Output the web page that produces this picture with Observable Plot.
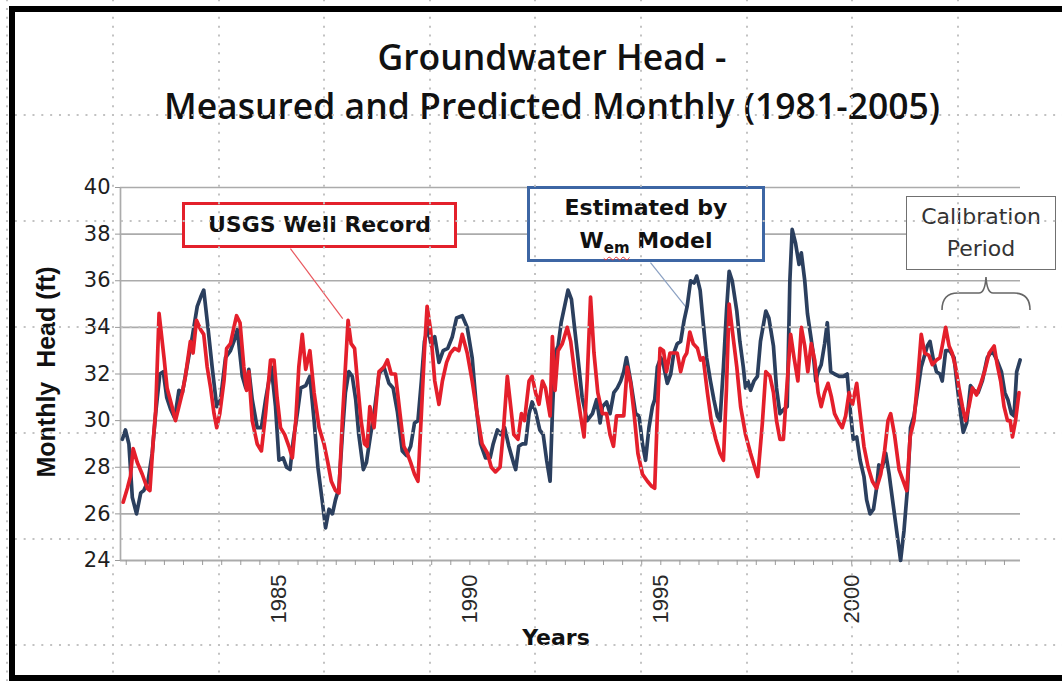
<!DOCTYPE html>
<html><head><meta charset="utf-8">
<script src="https://cdn.jsdelivr.net/npm/d3@7"></script>
<script src="https://cdn.jsdelivr.net/npm/@observablehq/plot@0.6"></script>
<style>
html,body{margin:0;padding:0;background:#fff;}
#page{position:relative;width:1062px;height:681px;overflow:hidden;background:#fff;}
#chart{position:absolute;left:0;top:0;}
.abs{position:absolute;}
#title{left:152px;top:32px;width:800px;text-align:center;font-family:"Open Sans";font-weight:600;font-size:35.5px;line-height:49px;color:#111;}
#ylabel{left:-104px;top:357px;width:300px;text-align:center;transform:rotate(-90deg);font-family:"Liberation Sans";font-weight:bold;font-size:25px;white-space:pre;color:#111;line-height:30px;}
#xlabel{left:456px;top:625px;width:200px;text-align:center;font-family:"DejaVu Sans";font-weight:bold;font-size:22px;color:#111;}
.box{position:absolute;box-sizing:border-box;background:#fff;text-align:center;color:#111;}
#usgs{left:182px;top:202px;width:275px;height:46px;border:3.5px solid #e3202b;font-family:"DejaVu Sans";font-weight:bold;font-size:22px;line-height:39px;}
#wem{left:527px;top:186px;width:238px;height:76px;border:3.5px solid #3d66a4;font-family:"DejaVu Sans";font-weight:bold;font-size:22px;line-height:33px;padding-top:2px;}
#wem sub{font-size:15px;vertical-align:-5px;text-decoration:underline wavy #e33;text-decoration-thickness:1px;text-underline-offset:3px;}
#calib{left:906px;top:196px;width:150px;height:74px;border:1.5px solid #707070;font-family:"DejaVu Sans";font-size:22px;line-height:32px;padding-top:4px;color:#333;}
#grid{position:absolute;left:0;top:0;width:1062px;height:681px;pointer-events:none;
background-image:url("data:image/svg+xml,%3Csvg xmlns='http://www.w3.org/2000/svg' width='106' height='106'%3E%3Cline x1='1' y1='0' x2='1' y2='106' stroke='%23c2c2c2' stroke-width='2' stroke-dasharray='2 6.83'/%3E%3Cline x1='0' y1='1' x2='106' y2='1' stroke='%23c2c2c2' stroke-width='2' stroke-dasharray='2 6.83'/%3E%3C/svg%3E");
background-size:105.6px 106px;background-position:6.4px 7.7px;}
.bar{position:absolute;background:#000;}
</style></head>
<body><div id="page">
<div id="chart"></div>
<div id="title" class="abs">Groundwater Head -<br>Measured and Predicted Monthly (1981-2005)</div>
<div id="ylabel" class="abs">Monthly  Head (ft)</div>
<div id="xlabel" class="abs">Years</div>
<div id="usgs" class="box">USGS Well Record</div>
<div id="wem" class="box">Estimated by<br>W<sub>em</sub> Model</div>
<div id="calib" class="box">Calibration<br>Period</div>
<svg class="abs" style="left:0;top:0" width="1062" height="681">
<path d="M942,310 Q942,293 958,293 L979,293 Q985,293 986,277 Q987,293 993,293 L1014,293 Q1030,293 1030,310" fill="none" stroke="#666" stroke-width="1.6"/>
</svg>
<div id="grid"></div>
<div class="bar" style="left:9px;top:6px;width:6px;height:675px"></div>
<div class="bar" style="left:9px;top:6px;width:1053px;height:6px"></div>
<div class="bar" style="left:9px;top:675px;width:1053px;height:6px"></div>
</div>
<script>
// Measured: USGS well record (decimal year, head in ft)
const usgsYear = [1980.92,1981.03,1981.11,1981.18,1981.29,1981.42,1981.55,1981.62,1981.71,1981.77,1981.86,1981.99,1982.07,1982.20,1982.29,1982.38,1982.47,1982.55,1982.68,1982.75,1982.84,1982.95,1983.03,1983.12,1983.21,1983.30,1983.37,1983.45,1983.56,1983.63,1983.73,1983.82,1983.89,1983.98,
1984.08,1984.15,1984.21,1984.30,1984.43,1984.54,1984.65,1984.78,1984.87,1984.95,1985.04,1985.15,1985.26,1985.35,1985.44,1985.52,1985.61,1985.70,1985.81,1985.92,1986.05,1986.18,1986.28,1986.37,1986.48,1986.57,1986.66,1986.74,1986.81,1986.89,1986.98,1987.07,1987.15,1987.24,1987.31,1987.38,
1987.49,1987.62,1987.75,1987.84,1987.94,1988.05,1988.17,1988.27,1988.36,1988.45,1988.55,1988.64,1988.73,1988.81,1988.88,1988.97,1989.08,1989.19,1989.28,1989.39,1989.49,1989.60,1989.71,1989.80,1989.93,1990.06,1990.19,1990.32,1990.46,1990.56,1990.67,1990.79,
1990.87,1990.98,1991.07,1991.15,1991.26,1991.35,1991.43,1991.55,1991.63,1991.72,1991.81,1991.90,1991.98,1992.10,1992.16,1992.23,1992.31,1992.42,1992.55,1992.64,1992.77,1992.90,1992.99,1993.07,1993.16,1993.25,1993.35,1993.47,1993.58,1993.67,1993.76,1993.84,1993.95,1994.03,1994.12,1994.21,
1994.30,1994.40,1994.52,1994.65,1994.75,1994.84,1994.91,1994.98,1995.07,1995.15,1995.24,1995.34,1995.43,1995.52,1995.61,1995.68,1995.76,1995.85,1995.96,1996.04,1996.11,1996.22,1996.32,1996.44,1996.55,1996.64,1996.72,1996.79,1996.87,1996.99,1997.09,1997.22,1997.35,1997.46,1997.54,1997.66,
1997.75,1997.86,1997.95,1998.03,1998.12,1998.21,1998.30,1998.40,1998.49,1998.59,1998.68,1998.77,1998.85,1998.94,1999.03,1999.12,1999.20,1999.29,1999.38,1999.47,1999.55,1999.67,1999.75,1999.84,1999.93,2000.02,2000.13,2000.22,2000.32,2000.43,2000.54,2000.65,2000.76,2000.86,2000.95,
2001.02,2001.12,2001.24,2001.35,2001.44,2001.53,2001.63,2001.74,2001.82,2001.91,2002.02,2002.11,2002.22,2002.31,2002.37,2002.46,2002.55,2002.63,2002.72,2002.81,2002.90,2002.98,2003.07,2003.16,2003.27,2003.38,2003.48,2003.60,2003.73,2003.81,2003.90,2003.99,2004.08,2004.15,2004.21,2004.29,2004.38];
const usgsHead = [26.5,27.1,27.6,28.8,28.2,27.7,27.1,27.0,29.2,30.4,34.6,32.7,31.4,30.6,30.0,30.6,31.2,31.9,33.4,32.9,34.3,33.9,33.7,32.3,31.4,30.3,29.7,30.3,31.7,33.1,33.3,34.0,34.5,34.2,
32.3,31.3,32.1,30.0,29.0,28.7,30.3,32.6,32.6,31.0,29.7,29.4,28.9,28.4,30.0,32.3,33.7,32.2,33.0,31.2,29.7,29.0,28.2,27.4,27.0,26.9,30.0,32.3,34.3,33.3,33.1,31.4,30.0,29.0,28.9,30.6,
29.7,32.1,32.3,32.6,32.0,32.0,30.3,28.9,28.6,28.2,27.7,27.4,30.3,33.0,34.9,33.9,31.7,30.7,31.7,32.5,32.9,33.1,33.0,33.7,32.9,31.7,30.3,29.0,28.6,28.0,27.8,28.0,
29.4,31.9,30.6,29.4,29.2,30.3,30.0,31.7,31.9,31.2,30.7,31.7,31.4,30.2,33.6,31.3,33.0,33.3,34.0,33.4,31.7,30.2,29.3,31.7,35.3,32.9,31.2,30.3,30.3,29.4,28.9,30.2,30.2,30.2,32.3,31.6,
30.3,28.6,27.7,27.4,27.2,27.1,30.3,33.1,33.0,32.1,32.9,32.9,32.9,32.1,32.7,32.9,33.8,33.3,33.1,32.6,32.7,31.2,30.0,29.2,28.6,28.3,31.4,35.0,33.9,32.3,30.6,29.4,28.6,28.0,27.6,29.9,
32.1,31.9,31.2,30.0,29.2,29.2,31.4,33.7,32.7,31.7,34.0,33.2,32.1,33.3,32.6,31.2,30.6,31.2,31.6,31.0,30.3,29.9,29.7,30.2,31.2,30.7,31.6,30.3,28.9,28.0,27.4,27.1,27.7,28.7,30.0,
30.3,29.4,27.9,27.4,27.0,29.3,30.0,32.0,33.7,32.9,32.8,32.4,32.6,32.7,33.2,34.0,33.2,32.9,32.3,31.4,30.6,30.0,30.6,31.4,31.1,31.6,32.1,32.9,33.2,32.4,31.7,30.6,30.0,30.0,29.3,30.0,31.2];

// Predicted: W_em model (decimal year, head in ft)
const wemYear = [1980.90,1980.98,1981.07,1981.16,1981.27,1981.38,1981.46,1981.57,1981.68,1981.77,1981.88,1981.97,1982.06,1982.16,1982.27,1982.38,1982.47,1982.58,1982.73,1982.86,1982.95,1983.03,1983.14,1983.25,1983.37,1983.47,1983.60,1983.73,1983.82,1983.91,
1984.04,1984.13,1984.21,1984.30,1984.43,1984.54,1984.65,1984.80,1984.91,1985.00,1985.11,1985.20,1985.29,1985.37,1985.48,1985.57,1985.70,1985.81,1985.92,1986.02,1986.13,1986.22,1986.31,1986.40,1986.48,1986.57,1986.66,1986.74,1986.83,1986.92,1987.01,1987.09,1987.21,1987.29,1987.40,
1987.49,1987.62,1987.75,1987.88,1987.99,1988.10,1988.23,1988.34,1988.45,1988.55,1988.64,1988.73,1988.81,1988.90,1988.99,1989.08,1989.19,1989.30,1989.42,1989.54,1989.65,1989.80,1989.93,1990.06,1990.18,1990.28,1990.41,1990.53,1990.61,1990.72,
1990.81,1990.91,1991.02,1991.14,1991.20,1991.28,1991.37,1991.46,1991.55,1991.63,1991.72,1991.83,1991.92,1992.01,1992.10,1992.16,1992.23,1992.31,1992.39,1992.48,1992.57,1992.66,1992.74,1992.83,1992.94,1993.07,1993.21,1993.32,1993.41,1993.47,1993.58,1993.67,1993.77,1993.86,1993.95,1994.03,1994.10,1994.21,
1994.34,1994.43,1994.52,1994.60,1994.69,1994.78,1994.84,1994.91,1995.00,1995.08,1995.17,1995.26,1995.34,1995.43,1995.52,1995.61,1995.69,1995.78,1995.87,1995.94,1996.03,1996.11,1996.20,1996.30,1996.39,1996.48,1996.55,1996.64,1996.72,1996.79,1996.87,1996.99,1997.07,1997.16,1997.22,1997.28,1997.35,1997.44,1997.53,1997.61,
1997.75,1997.83,1997.95,1998.03,1998.12,1998.23,1998.31,1998.38,1998.44,1998.53,1998.62,1998.68,1998.77,1998.84,1998.92,1998.99,1999.06,1999.12,1999.20,1999.29,1999.36,1999.45,1999.55,1999.67,1999.78,1999.88,1999.97,2000.04,2000.13,2000.22,2000.32,2000.39,2000.48,2000.57,2000.65,2000.71,2000.80,2000.89,2000.98,
2001.02,2001.15,2001.28,2001.37,2001.46,2001.54,2001.63,2001.72,2001.82,2001.89,2001.98,2002.05,2002.14,2002.22,2002.31,2002.37,2002.46,2002.57,2002.68,2002.77,2002.85,2002.92,2003.01,2003.11,2003.20,2003.31,2003.42,2003.55,2003.68,2003.80,2003.92,2004.01,2004.09,2004.18,2004.25,2004.32,2004.41];
const wemHead = [29.2,29.6,29.0,26.7,26.0,26.9,27.0,27.4,28.6,30.3,32.0,32.1,31.0,30.5,30.1,31.3,31.2,32.2,33.6,34.9,35.3,35.6,34.0,32.3,30.6,30.9,32.7,33.0,33.4,33.9,
31.9,31.4,32.2,30.9,29.7,29.7,30.9,32.3,30.6,28.3,28.4,28.0,27.9,29.1,30.3,31.4,31.5,31.9,30.0,28.0,26.6,25.4,26.2,26.0,26.6,27.1,29.4,31.2,32.1,31.9,30.9,29.4,27.9,28.2,29.4,
30.3,32.0,32.3,31.6,31.4,30.4,28.7,28.5,28.9,29.9,30.0,31.7,33.4,34.0,33.2,33.6,32.5,33.0,33.1,33.6,34.4,34.5,34.0,32.7,30.4,29.0,28.4,28.4,29.0,29.6,
29.4,29.7,28.9,28.2,27.9,28.9,29.0,29.0,30.3,30.8,30.4,29.6,29.4,28.3,27.4,30.3,32.9,33.2,34.2,34.9,35.6,35.2,34.0,32.7,31.0,30.0,30.3,30.9,29.9,30.6,30.8,30.3,31.2,31.4,31.7,32.1,32.7,31.7,
30.3,30.2,29.0,28.3,29.7,30.6,30.9,32.3,32.7,32.3,31.6,32.0,32.9,33.3,33.4,34.3,34.9,36.0,35.9,36.2,35.6,34.2,32.7,31.7,30.9,30.2,30.0,32.3,34.7,36.4,36.0,34.7,33.4,32.3,31.4,31.7,31.3,31.7,31.9,33.4,
34.7,34.4,33.2,31.4,30.3,30.5,30.6,36.0,38.2,37.6,36.7,37.2,36.0,34.6,33.7,32.9,31.7,32.1,32.4,33.3,34.2,32.1,32.0,31.9,31.9,32.0,30.3,29.2,29.3,28.3,27.6,26.6,26.0,26.2,27.1,28.1,28.0,28.6,27.7,
27.2,25.6,24.0,25.3,27.1,29.7,30.2,31.2,32.3,32.7,33.2,33.4,32.6,32.1,32.0,31.7,33.0,33.0,32.7,31.4,30.3,29.5,29.9,31.5,31.3,31.2,31.7,32.7,33.0,32.6,32.1,31.2,30.9,30.3,30.2,32.1,32.6];

// Axes
const xDomain = [1980.85, 2004.42];
const yTicks = [24, 26, 28, 30, 32, 34, 36, 38, 40];
const yearTicks = [1985, 1990, 1995, 2000];
const minorTicks = d3.range(1981, 2004.3, 0.5);

// Annotation leader lines (from label box to the series feature)
const leaderFromYear = [1985.30, 1994.73];
const leaderFromHead = [37.38, 36.78];
const leaderToYear = [1986.67, 1995.65];
const leaderToHead = [34.38, 34.89];
const leaderColor = ["#e9585e", "#8aa0c2"];

const usgs = usgsYear.map((x, i) => ({year: x, head: usgsHead[i]}));
const wem = wemYear.map((x, i) => ({year: x, head: wemHead[i]}));
const leaders = leaderFromYear.map((x, i) => ({x1: x, y1: leaderFromHead[i], x2: leaderToYear[i], y2: leaderToHead[i], c: leaderColor[i]}));

const RED = "#e41f2b", BLUE = "#2b3f5e", GRID = "#ababab";

const chart = Plot.plot({
  width: 1062, height: 681,
  marginLeft: 120, marginRight: 42, marginTop: 187, marginBottom: 121,
  style: {background: "transparent", overflow: "visible"},
  x: {domain: xDomain},
  y: {domain: [24, 40]},
  marks: [
    Plot.gridY(yTicks.slice(1), {stroke: GRID, strokeOpacity: 1, strokeWidth: 1.7}),
    Plot.ruleY([yTicks[0]], {stroke: GRID, strokeWidth: 2.2}),
    Plot.ruleX([xDomain[0]], {stroke: GRID, strokeWidth: 1.7}),
    Plot.axisY({ticks: yTicks, tickSize: 5, tickPadding: 5, stroke: "#999", fill: "#1e1e1e", fontSize: 21, fontFamily: "DejaVu Sans", label: null}),
    Plot.axisX({ticks: minorTicks, tickSize: 5, tickFormat: () => "", stroke: "#9a9a9a", label: null}),
    Plot.axisX({ticks: yearTicks, tickSize: 0, tickPadding: 14, tickRotate: -90, tickFormat: d => String(d), fill: "#2a2a2a", fontSize: 22, fontFamily: "Liberation Sans", label: null}),
    Plot.link(leaders, {x1: "x1", y1: "y1", x2: "x2", y2: "y2", stroke: "c", strokeWidth: 1.2}),
    Plot.line(wem, {x: "year", y: "head", stroke: BLUE, strokeWidth: 3.7, strokeLinejoin: "round"}),
    Plot.line(usgs, {x: "year", y: "head", stroke: RED, strokeWidth: 3.7, strokeLinejoin: "round"})
  ]
});
document.getElementById("chart").appendChild(chart);
</script>
</body></html>
